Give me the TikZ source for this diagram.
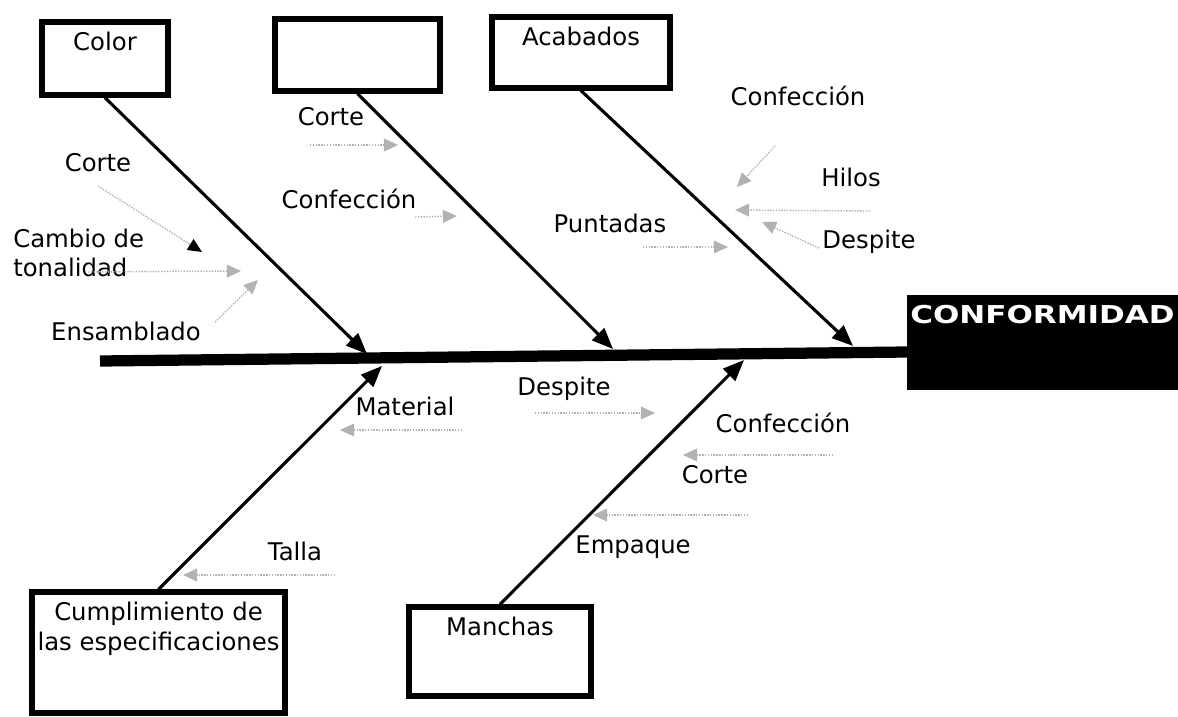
\documentclass[tikz,border=0pt]{standalone}
\usepackage{fontspec}
\setmainfont{DejaVu Sans}
\usepackage{graphicx}
\usetikzlibrary{arrows.meta}

\begin{document}
\begin{tikzpicture}[x=0.025cm,y=-0.025cm,
    every node/.style={font=\fontsize{17.3}{21}\selectfont},
    causebox/.style={draw,line width=3.8pt,inner sep=0pt},
    boxtext/.style={anchor=north,inner sep=0pt,yshift=-9pt,align=center},
    bone/.style={draw,line width=2.2pt,-{Triangle[length=15pt,width=12pt]}},
    minor/.style={draw,gray!60,line width=1pt,densely dotted,-{Triangle[length=10pt,width=9pt]}},
    lbl/.style={text height=.73em,text depth=0pt,inner sep=0pt}]

  \useasboundingbox (0,0) rectangle (1178,717);

  \node[causebox,minimum width=3.15cm,minimum height=1.825cm,
        label={[boxtext]north:Color}] (color) at (105,58.5) {};
  \node[causebox,minimum width=4.125cm,minimum height=1.8cm] (blank) at (357.5,55) {};
  \node[causebox,minimum width=4.45cm,minimum height=1.775cm,
        label={[boxtext]north:Acabados}] (acab) at (581,52.5) {};
  \node[causebox,minimum width=6.325cm,minimum height=3.025cm,
        label={[boxtext]north:Cumplimiento de\\las especificaciones}] (cumpl) at (158.5,652.5) {};
  \node[causebox,minimum width=4.55cm,minimum height=2.225cm,
        label={[boxtext]north:Manchas}] (manch) at (500,651.5) {};
  \node[fill=black,inner sep=0pt,minimum width=6.775cm,minimum height=2.375cm,
        label={[boxtext,text=white,yshift=2pt]north:\fontsize{17.5}{21}\selectfont\scalebox{1.26}[1]{\bfseries CONFORMIDAD}}] (conf) at (1042.5,342.5) {};

  \coordinate (sp0) at (100,361);
  \coordinate (sp1) at (907,352);
  \path (sp0) edge[draw,line width=8pt] (sp1);

  \coordinate (t1) at (367,354);
  \coordinate (t2) at (613,349);
  \coordinate (t3) at (853,346);
  \coordinate (t4) at (382,366);
  \coordinate (t5) at (744,360);

  \path (color.south) edge[bone] (t1);
  \path (blank.south) edge[bone] (t2);
  \path (acab.south) edge[bone] (t3);
  \path (cumpl.north) edge[bone] (t4);
  \path (manch.north) edge[bone] (t5);

  \begin{scope}[every node/.append style={lbl}]
    \node (c1) at (98,166) {Corte};
    \node (c3) at (126,335) {Ensamblado};
    \node (b1) at (331,120) {Corte};
    \node (b2) at (349,203) {Confección};
    \node (a1) at (798,100) {Confección};
    \node (a2) at (851,181) {Hilos};
    \node (a3) at (869,243) {Despite};
    \node (a4) at (610,227) {Puntadas};
    \node (m1) at (405,410) {Material};
    \node (m2) at (295,555) {Talla};
    \node (n1) at (564,390) {Despite};
    \node (n2) at (783,427) {Confección};
    \node (n3) at (715,478) {Corte};
    \node (n4) at (633,548) {Empaque};
  \end{scope}
  \node[anchor=west,align=left,inner sep=0pt] (c2) at (13,253) {Cambio de\\tonalidad};

  \coordinate (c1a) at (98,186);  \coordinate (c1b) at (202,252);
  \coordinate (c2a) at (88,272);  \coordinate (c2b) at (241,271);
  \coordinate (c3a) at (215,322); \coordinate (c3b) at (258,280);
  \coordinate (b1a) at (310,145); \coordinate (b1b) at (398,145);
  \coordinate (b2a) at (415,217); \coordinate (b2b) at (457,216);
  \coordinate (a1a) at (775,146); \coordinate (a1b) at (737,187);
  \coordinate (a2a) at (870,211); \coordinate (a2b) at (735,210);
  \coordinate (a3a) at (819,248); \coordinate (a3b) at (762,222);
  \coordinate (a4a) at (643,247); \coordinate (a4b) at (728,247);
  \coordinate (m1a) at (462,430); \coordinate (m1b) at (340,430);
  \coordinate (m2a) at (335,575); \coordinate (m2b) at (183,575);
  \coordinate (n1a) at (535,413); \coordinate (n1b) at (655,413);
  \coordinate (n2a) at (833,455); \coordinate (n2b) at (683,455);
  \coordinate (n3a) at (748,515); \coordinate (n3b) at (593,515);

  \path (c1a) edge[minor,-{Triangle[length=10pt,width=9pt,black]}] (c1b);
  \path (c2a) edge[minor] (c2b);
  \path (c3a) edge[minor] (c3b);
  \path (b1a) edge[minor] (b1b);
  \path (b2a) edge[minor] (b2b);
  \path (a1a) edge[minor] (a1b);
  \path (a2a) edge[minor] (a2b);
  \path (a3a) edge[minor] (a3b);
  \path (a4a) edge[minor] (a4b);
  \path (m1a) edge[minor] (m1b);
  \path (m2a) edge[minor] (m2b);
  \path (n1a) edge[minor] (n1b);
  \path (n2a) edge[minor] (n2b);
  \path (n3a) edge[minor] (n3b);

\end{tikzpicture}
\end{document}
